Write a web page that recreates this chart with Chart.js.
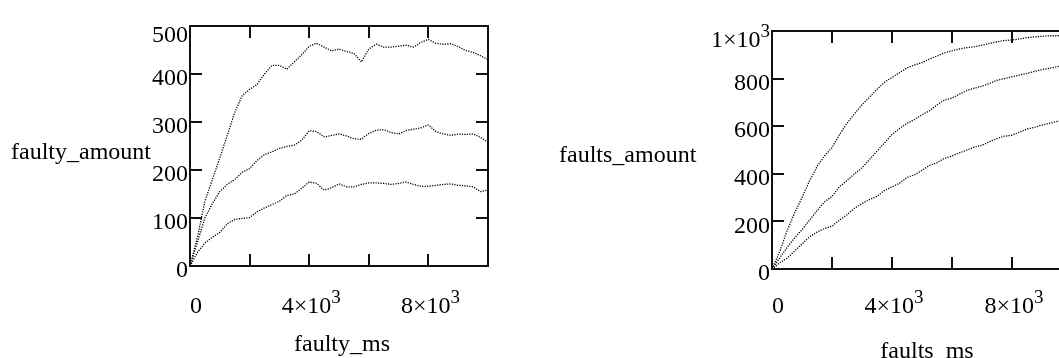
<!DOCTYPE html>
<html>
<head>
<meta charset="utf-8">
<script src="https://cdn.jsdelivr.net/npm/chart.js@4.4.1/dist/chart.umd.min.js"></script>
<style>
html,body{margin:0;padding:0;overflow:hidden;background:#fff;width:1059px;height:358px;}
.wrap{position:absolute;top:0;}
</style>
</head>
<body>
<div class="wrap" style="left:0;width:530px;height:358px;"><canvas id="c1" width="530" height="358"></canvas></div>
<div class="wrap" style="left:530px;width:560px;height:358px;"><canvas id="c2" width="560" height="358"></canvas></div>
<script>
// ---------- data (left chart) ----------
const faultyMs = [0,250,500,750,1000,1250,1500,1750,2000,2250,2500,2750,3000,3250,3500,3750,4000,4250,4500,4750,5000,5250,5500,5750,6000,6250,6500,6750,7000,7250,7500,7750,8000,8250,8500,8750,9000,9250,9500,9750,10000];
const faultyHigh = [0,60,135,180,225,272,320,355,368,378,400,418,418,410,425,440,458,464,456,448,452,447,443,425,452,462,456,456,458,460,456,466,472,464,462,463,457,449,445,438,430];
const faultyMid  = [0,50,100,130,155,170,180,195,203,220,232,238,245,249,252,262,282,280,269,272,275,271,265,264,276,283,284,278,275,282,285,288,294,280,275,272,275,274,275,268,258];
const faultyLow  = [0,28,48,60,70,88,97,99,101,113,121,128,135,147,150,162,175,172,158,163,171,165,165,170,173,173,172,170,172,175,170,166,166,168,170,171,168,167,165,155,158];
const faultyXTicks = [0,2000,4000,6000,8000,10000];
const faultyXLabels = ["0","","4×10^3","","8×10^3",""];
const faultyYTicks = [0,100,200,300,400,500];
const faultyYLabels = ["0","100","200","300","400","500"];

// ---------- data (right chart) ----------
const faultsMs = [0,250,500,750,1000,1250,1500,1750,2000,2250,2500,2750,3000,3250,3500,3750,4000,4250,4500,4750,5000,5250,5500,5750,6000,6250,6500,6750,7000,7250,7500,7750,8000,8250,8500,8750,9000,9250,9500,9750,10000];
const faultsHigh = [0,70,160,235,300,370,430,475,510,565,612,652,690,722,755,785,805,825,845,857,867,882,895,908,917,925,930,934,940,948,955,960,962,967,972,975,978,980,980,981,982];
const faultsMid  = [0,45,90,130,165,205,245,282,305,345,372,400,425,460,495,530,565,590,612,628,648,665,690,710,718,735,750,760,768,780,793,800,808,815,822,830,838,843,850,855,860];
const faultsLow  = [0,25,45,75,105,135,155,170,180,205,228,255,275,292,305,330,345,360,385,395,415,435,447,465,475,488,500,512,520,535,548,558,562,575,588,595,605,612,620,625,630];
const faultsXTicks = [0,2000,4000,6000,8000,10000];
const faultsXLabels = ["0","","4×10^3","","8×10^3",""];
const faultsYTicks = [0,200,400,600,800,1000];
const faultsYLabels = ["0","200","400","600","800","1×10^3"];

const FONT = '"Liberation Serif","Times New Roman",serif';
const FS = 24;

function drawLabel(ctx, text, x, baseline, align){
  const parts = text.split('^');
  const base = parts[0], exp = parts[1] || '';
  ctx.font = FS + 'px ' + FONT;
  const bw = ctx.measureText(base).width;
  ctx.font = Math.round(FS*0.78) + 'px ' + FONT;
  const ew = exp ? ctx.measureText(exp).width : 0;
  const tw = bw + ew;
  let sx = x;
  if (align === 'center') sx = x - tw/2;
  else if (align === 'right') sx = x - tw;
  ctx.textAlign = 'left';
  ctx.textBaseline = 'alphabetic';
  ctx.font = FS + 'px ' + FONT;
  ctx.fillText(base, sx, baseline);
  if (exp){
    ctx.font = Math.round(FS*0.78) + 'px ' + FONT;
    ctx.fillText(exp, sx + bw, baseline - FS*0.42);
  }
}

function framePlugin(cfg){
  return {
    id: 'frame',
    afterDraw(chart){
      const ctx = chart.ctx;
      const a = chart.chartArea;
      const xs = chart.scales.x, ys = chart.scales.y;
      ctx.save();
      ctx.strokeStyle = '#111';
      ctx.fillStyle = '#000';
      ctx.lineWidth = 2;
      ctx.beginPath();
      ctx.rect(a.left, a.top, a.right - a.left, a.bottom - a.top);
      ctx.stroke();
      const TL = 12;
      ctx.beginPath();
      cfg.xTicks.forEach(v => {
        const px = Math.round(xs.getPixelForValue(v));
        ctx.moveTo(px, a.bottom); ctx.lineTo(px, a.bottom - TL);
        ctx.moveTo(px, a.top); ctx.lineTo(px, a.top + TL);
      });
      cfg.yTicks.forEach(v => {
        const py = Math.round(ys.getPixelForValue(v));
        ctx.moveTo(a.left, py); ctx.lineTo(a.left + TL, py);
        ctx.moveTo(a.right, py); ctx.lineTo(a.right - TL, py);
      });
      ctx.stroke();
      cfg.yTicks.forEach((v, i) => {
        const lab = cfg.yLabels[i];
        if (!lab) return;
        let cy = ys.getPixelForValue(v) + 3;
        if (cy < a.top + 8) cy = a.top + 8;
        drawLabel(ctx, lab, a.left - 2, cy + FS*0.34, 'right');
      });
      cfg.xTicks.forEach((v, i) => {
        const lab = cfg.xLabels[i];
        if (!lab) return;
        let cx = xs.getPixelForValue(v) + 2;
        if (v === 0) cx = a.left + 6;
        drawLabel(ctx, lab, cx, 305 + FS*0.34, 'center');
      });
      ctx.font = FS + 'px ' + FONT;
      ctx.textBaseline = 'alphabetic';
      ctx.textAlign = 'center';
      ctx.fillText(cfg.xTitle, cfg.xTitleX, cfg.xTitleY);
      ctx.textAlign = 'left';
      ctx.fillText(cfg.yTitle, cfg.yTitleX, cfg.yTitleY);
      ctx.restore();
    }
  };
}

function makeChart(id, xs, series, cfg, padding, yMax){
  const datasets = series.map(s => ({
    data: xs.map((x, i) => ({x: x, y: s[i]})),
    borderColor: '#000',
    borderWidth: 1.3,
    borderDash: [1.2, 1.3],
    pointRadius: 0,
    fill: false,
    tension: 0
  }));
  return new Chart(document.getElementById(id), {
    type: 'line',
    data: { datasets },
    options: {
      responsive: false,
      animation: false,
      devicePixelRatio: 1,
      layout: { padding },
      plugins: { legend: {display: false}, tooltip: {enabled: false}, title: {display: false} },
      scales: {
        x: { type: 'linear', min: 0, max: 10000, display: false },
        y: { type: 'linear', min: 0, max: yMax, display: false }
      }
    },
    plugins: [framePlugin(cfg)]
  });
}

makeChart('c1', faultyMs, [faultyHigh, faultyMid, faultyLow], {
  xTicks: faultyXTicks, xLabels: faultyXLabels,
  yTicks: faultyYTicks, yLabels: faultyYLabels,
  xTitle: 'faulty_ms', xTitleX: 342, xTitleY: 351,
  yTitle: 'faulty_amount', yTitleX: 11, yTitleY: 159
}, {left: 190, right: 42, top: 26, bottom: 92}, 500);

makeChart('c2', faultsMs, [faultsHigh, faultsMid, faultsLow], {
  xTicks: faultsXTicks, xLabels: faultsXLabels,
  yTicks: faultsYTicks, yLabels: faultsYLabels,
  xTitle: 'faults_ms', xTitleX: 397, xTitleY: 358,
  yTitle: 'faults_amount', yTitleX: 29, yTitleY: 162
}, {left: 242, right: 18, top: 31, bottom: 89}, 1000);
</script>
</body>
</html>
